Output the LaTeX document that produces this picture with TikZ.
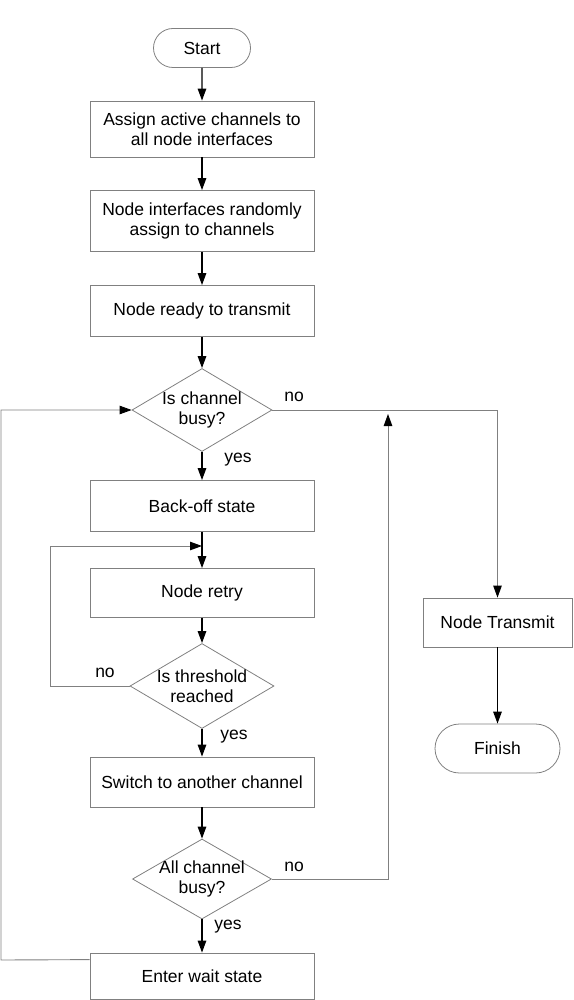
\documentclass[tikz,border=0pt]{standalone}
\usepackage{fontspec}
\setmainfont{Liberation Sans}
\usetikzlibrary{arrows.meta, positioning, shapes.geometric, shapes.misc, calc}

\tikzset{
  chartfont/.style={font=\fontsize{17.5}{20}\selectfont},
  procbox/.style={draw=gray, line width=0.8pt, rectangle, minimum width=224pt, inner sep=0pt, align=center, chartfont},
  termbox/.style={draw=gray, line width=0.8pt, rounded rectangle, inner sep=0pt, chartfont},
  decbox/.style={draw=gray, line width=0.8pt, diamond, inner sep=-12pt, align=center, chartfont},
  flow/.style={-{Triangle[length=12pt,width=8.5pt]}, line width=1.3pt, black},
  loopline/.style={draw=gray, line width=0.9pt, -{Triangle[length=12pt,width=8.5pt,color=black]}},
  answer/.style={chartfont}
}

\begin{document}
\begin{tikzpicture}[x=1pt,y=-1pt]
  \useasboundingbox (0,0) rectangle (573,1000);

  % Main column
  \node[termbox, minimum width=97pt, minimum height=39pt] (start) at (202,48) {Start};
  \node[procbox, minimum height=56pt] (assign) at (202,129) {Assign active channels to\\all node interfaces};
  \node[procbox, minimum height=61pt] (random) at (202,221) {Node interfaces randomly\\assign to channels};
  \node[procbox, minimum height=51pt] (ready) at (202,311) {Node ready to transmit};
  \node[decbox, minimum width=140pt, minimum height=83pt] (busy) at (202,410) {Is channel\\busy?};
  \node[procbox, minimum height=51pt] (backoff) at (202,506) {Back-off state};
  \node[procbox, minimum height=49pt] (retry) at (202,593) {Node retry};
  \node[decbox, minimum width=144pt, minimum height=85pt] (thresh) at (202,686) {Is threshold\\reached};
  \node[procbox, minimum height=50pt] (switch) at (202,782) {Switch to another channel};
  \node[decbox, minimum width=139pt, minimum height=80pt] (allbusy) at (202,879) {All channel\\busy?};
  \node[procbox, minimum height=46pt] (wait) at (202,976) {Enter wait state};

  % Right column
  \node[procbox, minimum width=149pt, minimum height=49pt] (transmit) at (497.5,622.5) {Node Transmit};
  \node[termbox, minimum width=125pt, minimum height=49pt] (finish) at (497.5,748.5) {Finish};

  % Straight flow
  \draw[flow] (start) -- (assign);
  \draw[flow] (assign) -- (random);
  \draw[flow] (random) -- (ready);
  \draw[flow] (ready) -- (busy);
  \draw[flow] (busy) -- (backoff);
  \draw[flow] (backoff) -- (retry);
  \draw[flow] (retry) -- (thresh);
  \draw[flow] (thresh) -- (switch);
  \draw[flow] (switch) -- (allbusy);
  \draw[flow] (allbusy) -- (wait);
  \draw[flow] (transmit) -- (finish);

  % Loops
  \coordinate (waitleft) at (1,960);
  \coordinate (busyleft) at (1,410);
  \draw[loopline] ([yshift=-7pt]wait.north west) -- (waitleft) -- (busyleft) -- (busy.west);

  \coordinate (threshleft) at (50,686);
  \coordinate (retryleft) at (50,546);
  \coordinate (retryin) at (202,546);
  \draw[loopline] (thresh.west) -- (threshleft) -- (retryleft) -- (retryin);

  \draw[loopline] (busy.east) -| (transmit.north);

  \coordinate (allright) at (388,879);
  \coordinate (busyright) at (388,414);
  \draw[loopline] (allbusy.east) -- (allright) -- (busyright);

  % Answers
  \node[answer] (busyno) at (294,397) {no};
  \node[answer] (busyyes) at (238,460) {yes};
  \node[answer] (threshno) at (105,673) {no};
  \node[answer] (threshyes) at (234,737) {yes};
  \node[answer] (allno) at (294,867) {no};
  \node[answer] (allyes) at (228,927) {yes};
\end{tikzpicture}
\end{document}
